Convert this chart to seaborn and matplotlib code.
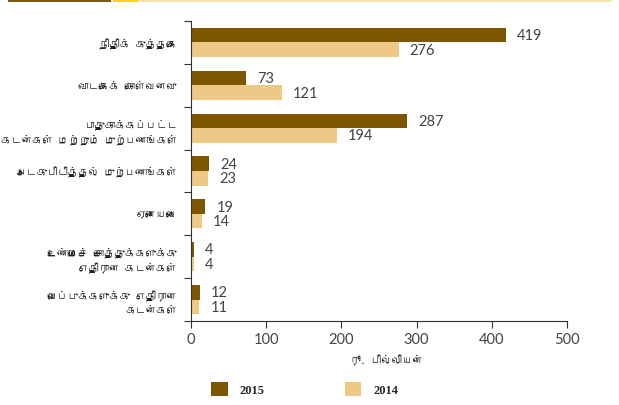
import matplotlib
matplotlib.use("Agg")
import matplotlib.pyplot as plt
from matplotlib import font_manager
from matplotlib.ft2font import FT2Font
from matplotlib.patches import Rectangle
import pandas as pd
import seaborn as sns

# Loan categories (Tamil) and amounts in Rs. billion
categories = [
    "நிதிக் குத்தகை",
    "வாடகைக் கொள்வனவு",
    "பாதுகாக்கப்பட்ட\nகடன்கள் மற்றும் முற்பணங்கள்",
    "அடகுபிடித்தல் முற்பணங்கள்",
    "ஏனையவை",
    "உண்மைச் சொத்துக்களுக்கு\nஎதிரான கடன்கள்",
    "வைப்புக்களுக்கு எதிரான\nகடன்கள்",
]
values_2015 = [419, 73, 287, 24, 19, 4, 12]
values_2014 = [276, 121, 194, 23, 14, 4, 11]
years = ["2015", "2014"]
x_ticks = [0, 100, 200, 300, 400, 500]
x_label = "ரூ. பில்லியன்"

DARK = "#7F5600"
LIGHT = "#EDC985"


def tamil_family():
    """Return an installed family that has Tamil glyphs, if any."""
    for fe in font_manager.fontManager.ttflist:
        try:
            f = FT2Font(fe.fname)
            if f.get_char_index(0x0BA8) and f.get_char_index(0x0B95):
                return fe.name
        except Exception:
            continue
    return None


sns.set_theme(style="white")
tam = tamil_family()
num_family = ["Lato", "DejaVu Sans"]
label_family = ([tam] if tam else []) + ["Noto Sans", "DejaVu Sans"]
plt.rcParams["font.family"] = num_family

df = pd.DataFrame({
    "category": categories * 2,
    "value": values_2015 + values_2014,
    "year": [years[0]] * len(categories) + [years[1]] * len(categories),
})

fig = plt.figure(figsize=(6.19, 4.06), dpi=100)
ax = fig.add_axes([191 / 619, 1 - 322 / 406, 376 / 619, 300 / 406])

sns.barplot(
    data=df, x="value", y="category", hue="year", orient="h",
    hue_order=years, palette=[DARK, LIGHT], width=0.68,
    linewidth=0, saturation=1, ax=ax, legend=True,
)

# value labels at the bar ends
for container in ax.containers:
    ax.bar_label(container, fmt="%g", padding=8, fontsize=10.5,
                 color="#444444", family=num_family)

n = len(categories)
ax.set_xlim(0, 500)
ax.set_ylim(n - 0.5, -0.5)
ax.set_xticks(x_ticks)
ax.set_xticklabels([str(t) for t in x_ticks], fontsize=10.5, color="#444444",
                   family=num_family)

# category labels sit between boundary ticks
ax.set_yticks([i - 0.5 for i in range(n + 1)])
ax.set_yticklabels([])
ax.set_yticks(range(n), minor=True)
ax.set_yticklabels(categories, minor=True, fontsize=7.5, color="#222222",
                   family=label_family, ha="right", linespacing=1.5)
ax.tick_params(axis="y", which="minor", length=0, pad=10)
ax.tick_params(axis="y", which="major", length=5, width=0.8, color="#333333",
               direction="out", left=True)
ax.tick_params(axis="x", length=5, width=0.8, color="#333333",
               direction="out", bottom=True, pad=3)

ax.set_ylabel("")
ax.set_xlabel(x_label, fontsize=7.5, fontweight="bold", color="#222222",
              family=label_family, labelpad=9)
ax.xaxis.set_label_coords(0.52, -0.11)

for side in ("top", "right"):
    ax.spines[side].set_visible(False)
for side in ("left", "bottom"):
    ax.spines[side].set_color("#333333")
    ax.spines[side].set_linewidth(0.8)

# legend below the axis title
handles, labels = ax.get_legend_handles_labels()
ax.get_legend().remove()
fig.legend(handles, labels, loc="center left", bbox_to_anchor=(200 / 619, 1 - 390 / 406),
           ncol=2, frameon=False, handlelength=1.3, handleheight=1.3,
           handletextpad=1.0, columnspacing=6.4,
           prop={"family": "Liberation Serif", "weight": "bold", "size": 9})

# header rule along the top edge
for x0, x1, c in [(8, 111, "#7F5A10"), (113, 138, "#FFD21A"), (138, 612, "#F7E3AE")]:
    fig.add_artist(Rectangle((x0 / 619, 1 - 3 / 406), (x1 - x0) / 619, 3 / 406,
                             transform=fig.transFigure, color=c, lw=0))

fig.savefig("out.png", dpi=100)
